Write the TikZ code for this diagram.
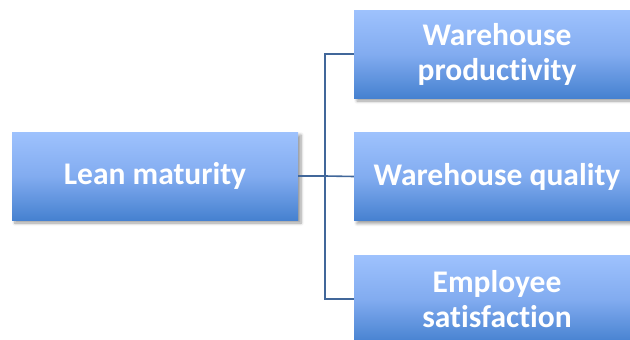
\documentclass[tikz,border=0pt]{standalone}
\usepackage{fontspec}
\setmainfont{Carlito}[Ligatures=NoCommon]
\usetikzlibrary{shadows.blur}
\definecolor{boxtop}{RGB}{158,194,253}
\definecolor{boxmid}{RGB}{130,172,240}
\definecolor{boxbot}{RGB}{70,129,208}
\definecolor{linkcol}{RGB}{65,103,154}
\tikzset{
  box/.style={rectangle, minimum width=286pt, minimum height=88pt, inner sep=0pt,
    top color=boxtop, bottom color=boxbot, middle color=boxmid, text=white, align=center,
    font=\fontsize{31.5}{35}\selectfont\bfseries,
    blur shadow={shadow xshift=3pt, shadow yshift=-3pt, shadow blur steps=6, shadow blur radius=3pt, shadow opacity=40}},
  link/.style={draw=linkcol, line width=1.6pt}
}
\begin{document}
\begin{tikzpicture}[x=1pt,y=-1pt]
  \useasboundingbox (0,0) rectangle (630,340);
  \coordinate (fork) at (325,176);
  \node[box] (lean) at (155,176) {Lean maturity};
  \node[box] (prod) at (497,54) {Warehouse\\productivity};
  \node[box] (qual) at (497,176.5) {Warehouse quality};
  \node[box] (emp)  at (497,299) {Employee\\satisfaction};
  % tree connectors from the root box to the three outcome boxes
  \draw[link] (lean.east) -- (fork);
  \draw[link] (fork) |- (prod.west);
  \draw[link] (fork) -- (qual.west);
  \draw[link] (fork) |- (emp.west);
\end{tikzpicture}
\end{document}
